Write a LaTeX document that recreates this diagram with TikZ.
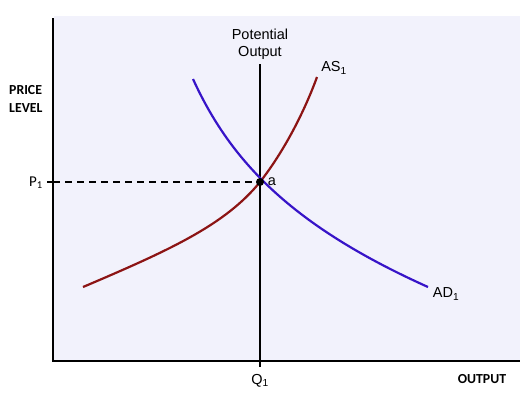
\documentclass[tikz,border=0pt]{standalone}
\usepackage{fontspec}
\setmainfont{Liberation Sans}
\newfontfamily\calib{Carlito}
\begin{document}
\begin{tikzpicture}[x=1pt,y=-1pt,
  lbl/.style={font=\fontsize{14.5}{15}\selectfont, inner sep=0pt},
  axlbl/.style={font=\calib\bfseries\fontsize{13.8}{14}\selectfont, inner sep=0pt, align=center},
  axisline/.style={line width=1.5pt, black},
  ascurve/.style={line width=2.2pt, color={rgb,255:red,140;green,20;blue,20}},
  adcurve/.style={line width=2.2pt, color={rgb,255:red,55;green,20;blue,200}}]
\useasboundingbox (0,0) rectangle (530,397);
\fill[white] (0,0) rectangle (530,397);
\fill[color={rgb,255:red,242;green,242;blue,252}] (54,16) rectangle (520,361);
% axes
\coordinate (O) at (53,361);
\coordinate (Ytop) at (53,18);
\coordinate (Xend) at (520,361);
\draw[axisline] (Ytop) -- (O) -- (Xend);
% potential output line
\coordinate (Ptop) at (260,64);
\coordinate (Pbot) at (260,367);
\draw[line width=2.2pt] (Ptop) -- (Pbot);
% P1 dashed
\coordinate (P1L) at (47,182);
\coordinate (E) at (260,182);
\draw[line width=1.1pt] (P1L) -- (53,182);
\draw[line width=1.1pt, dash pattern=on 7pt off 5pt] (53,182) -- (E);
% curves
\draw[ascurve] (83,287) .. controls (170,250) and (225,225) .. (E) .. controls (285,150) and (305,110) .. (317,77);
\draw[adcurve] (193,79) .. controls (230,160) and (290,225) .. (428,287);
\fill (E) circle (4pt);
% labels
\node[lbl] (a) at (272,182) {a};
\node[lbl, align=center, font=\fontsize{14.5}{17}\selectfont] (pot) at (260,44) {Potential\\Output};
\node[lbl] (as) at (334,68) {AS\textsubscript{1}};
\node[lbl] (ad) at (446,294) {AD\textsubscript{1}};
\node[lbl, font=\calib\fontsize{15}{15}\selectfont] (p1) at (36,183) {P\textsubscript{1}};
\node[lbl] (q1) at (260,381) {Q\textsubscript{1}};
\node[axlbl, anchor=west] (pl) at (9,90) {PRICE};
\node[axlbl, anchor=west] (lv) at (9,108) {LEVEL};
\node[axlbl] (out) at (482,379) {OUTPUT};
\end{tikzpicture}
\end{document}
